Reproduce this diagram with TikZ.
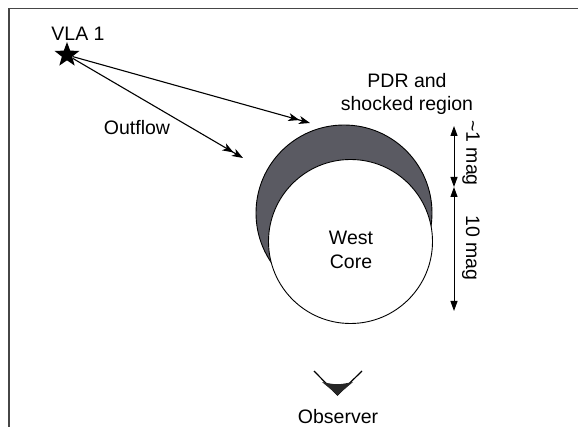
\documentclass[tikz,border=0pt]{standalone}
\usepackage{fontspec}
\setmainfont{Liberation Sans}
\usetikzlibrary{arrows.meta,shapes.geometric}
\definecolor{pdr}{RGB}{90,90,98}
\definecolor{framec}{RGB}{70,70,70}
\tikzset{
  lbl/.style={font=\fontsize{19.5}{22}\selectfont, inner sep=0pt, align=center},
  flow/.style={line width=1.1pt, -{Stealth[length=11pt,width=8pt,inset=3pt]Stealth[length=11pt,width=8pt,inset=3pt]}},
  magarrow/.style={line width=1pt, {Triangle[length=10pt,width=7pt]}-{Triangle[length=10pt,width=7pt]}},
  circ/.style={line width=0.9pt, draw=black}
}
\begin{document}
\begin{tikzpicture}[x=1pt,y=-1pt]
\useasboundingbox (0,0) rectangle (578,427);
% frame
\draw[framec, line width=1.5pt] (9,427) -- (9,8.5) -- (578,8.5);
% star and label
\node[star, star points=5, star point ratio=2.4, fill=black, minimum size=26pt, inner sep=0pt] (vla) at (67,55) {};
\node[lbl] (vlat) at (78,34) {VLA 1};
% core
\node[circ, circle, fill=pdr, minimum size=176pt, inner sep=0pt] (pdr) at (344,213) {};
\node[circ, circle, fill=white, minimum size=164pt, inner sep=0pt] (core) at (350.5,241.5) {};
\node[lbl] (coret) at (351,250) {West\\[2pt]Core};
% outflow arrows
\coordinate (t1) at (310,123);
\coordinate (t2) at (243,158);
\draw[flow] (vla) -- (t1);
\draw[flow] (vla) -- (t2);
\node[lbl] (outt) at (137,128) {Outflow};
\node[lbl] (pdrt) at (407,94) {PDR and\\[1pt]shocked region};
% magnitude arrows
\coordinate (m0) at (454,126);
\coordinate (m1) at (454,187);
\coordinate (m2) at (454,311);
\draw[magarrow] (m0) -- (m1);
\draw[magarrow] (m1) -- (m2);
\node[lbl, rotate=-90] (mag1) at (471,153) {\textasciitilde1 mag};
\node[lbl, rotate=-90] (mag10) at (471,248) {10 mag};
% observer
\coordinate (ol) at (314,371);
\coordinate (ob) at (337.5,395);
\coordinate (or) at (362,371);
\draw[line width=1.2pt] (ol) -- (ob) -- (or);
\fill[black!85] (322,382) .. controls (337,385) .. (353,382) -- (ob) -- cycle;
\node[lbl] (obst) at (338,417) {Observer};
\end{tikzpicture}
\end{document}
